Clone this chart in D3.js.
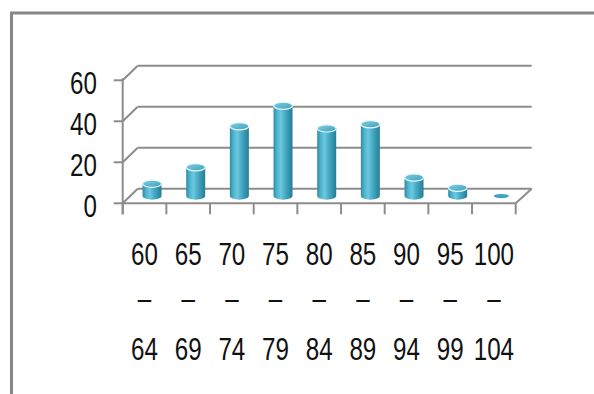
<!DOCTYPE html>
<html>
<head>
<meta charset="utf-8">
<script src="https://cdn.jsdelivr.net/npm/d3@7"></script>
<style>
  html, body { margin: 0; padding: 0; background: #fff; }
  svg { display: block; }
  text { font-family: "Liberation Sans", Arial, sans-serif; fill: #111; }
</style>
</head>
<body>
<svg id="chart" width="594" height="394"></svg>
<script>
// Frequency of scores per class interval
const classFrom = ["60", "65", "70", "75", "80", "85", "90", "95", "100"];
const classTo   = ["64", "69", "74", "79", "84", "89", "94", "99", "104"];
const frequency = [6, 14, 34, 44, 33, 35, 9, 4, 0];
const yTicks = [0, 20, 40, 60];

(function () {
const svg = d3.select("#chart");
const W = 594, H = 394;

// plot box (front plane) and 3-D depth offset
const left = 122.7, right = 515.7;
const dx = 15, dy = -14.5;
const grey = "#8c8c8c";

const x = d3.scaleBand().domain(classFrom).range([left, right]).paddingInner(0).paddingOuter(0);
const y = d3.scaleLinear().domain([0, 60]).range([203.3, 80.3]);

// chart border
svg.append("path")
  .attr("d", `M11.5,${H} V13 H${W}`)
  .attr("fill", "none").attr("stroke", "#878787").attr("stroke-width", 3);

// defs: cylinder shading
const defs = svg.append("defs");
const sideGrad = defs.append("linearGradient").attr("id", "cylSide").attr("x1", "0").attr("x2", "1").attr("y1", "0").attr("y2", "0");
[["0%", "#2e8aa5"], ["18%", "#4db3cd"], ["38%", "#6cc8df"], ["62%", "#47aac5"], ["88%", "#2f8aa4"], ["100%", "#2a7d96"]]
  .forEach(([o, c]) => sideGrad.append("stop").attr("offset", o).attr("stop-color", c));
const topGrad = defs.append("linearGradient").attr("id", "cylTop").attr("x1", "0").attr("x2", "1").attr("y1", "0").attr("y2", "1");
[["0%", "#7fd0e4"], ["100%", "#3c9fba"]]
  .forEach(([o, c]) => topGrad.append("stop").attr("offset", o).attr("stop-color", c));

// back wall gridlines with the diagonal returns to the value axis
const grid = svg.append("g").attr("stroke", grey).attr("stroke-width", 2).attr("fill", "none");
yTicks.forEach(v => {
  grid.append("line")
    .attr("x1", left + dx).attr("y1", y(v) + dy)
    .attr("x2", right + dx + 1).attr("y2", y(v) + dy);
  grid.append("line")
    .attr("x1", left).attr("y1", y(v))
    .attr("x2", left + dx).attr("y2", y(v) + dy);
});
// floor: front edge and right side
grid.append("line").attr("x1", left).attr("y1", y(0)).attr("x2", right).attr("y2", y(0));
grid.append("line").attr("x1", right).attr("y1", y(0)).attr("x2", right + dx + 1).attr("y2", y(0) + dy);

// value axis
const axis = svg.append("g").attr("stroke", grey).attr("stroke-width", 2);
axis.append("line").attr("x1", left).attr("x2", left).attr("y1", y(60) - 2).attr("y2", y(0) + 11);
yTicks.forEach(v => {
  axis.append("line").attr("x1", left - 9).attr("x2", left).attr("y1", y(v)).attr("y2", y(v));
});
// category ticks at band edges
d3.range(classFrom.length + 1).forEach(i => {
  const xx = left + i * x.bandwidth();
  axis.append("line").attr("x1", xx).attr("x2", xx).attr("y1", y(0)).attr("y2", y(0) + 11);
});

// cylinders, standing halfway into the depth
const rx = 9.5, ry = 3.6;
const bars = svg.append("g");
classFrom.forEach((c, i) => {
  const cx = x(c) + x.bandwidth() / 2 + dx / 2;
  const y0 = y(0) + dy / 2;
  const y1 = y(frequency[i]) + dy / 2;
  const g = bars.append("g");
  if (y0 - y1 > 0.5) {
    g.append("path")
      .attr("d", `M${cx - rx},${y1} L${cx - rx},${y0} A${rx},${ry} 0 0 0 ${cx + rx},${y0} L${cx + rx},${y1} Z`)
      .attr("fill", "url(#cylSide)");
    g.append("ellipse").attr("cx", cx).attr("cy", y1).attr("rx", rx).attr("ry", ry)
      .attr("fill", "url(#cylTop)").attr("stroke", "#e8f6fa").attr("stroke-width", 1.2);
  } else {
    g.append("ellipse").attr("cx", cx).attr("cy", y1).attr("rx", rx * 0.8).attr("ry", ry * 0.6)
      .attr("fill", "#3ea3be");
  }
});

// value labels
const fs = 31, sx = 0.78;
const yLab = svg.append("g");
yTicks.forEach(v => {
  yLab.append("text")
    .attr("transform", `translate(97,${y(v) + 13.5}) scale(${sx},1)`)
    .attr("text-anchor", "end").attr("font-size", fs)
    .text(v);
});

// category labels: from / dash / to
const cLab = svg.append("g");
classFrom.forEach((c, i) => {
  const cx = x(c) + x.bandwidth() / 2;
  [[classFrom[i], 265], ["–", 309], [classTo[i], 360]].forEach(([t, by]) => {
    cLab.append("text")
      .attr("transform", `translate(${cx},${by}) scale(${sx},1)`)
      .attr("text-anchor", "middle").attr("font-size", fs)
      .text(t);
  });
});
})();
</script>
</body>
</html>
